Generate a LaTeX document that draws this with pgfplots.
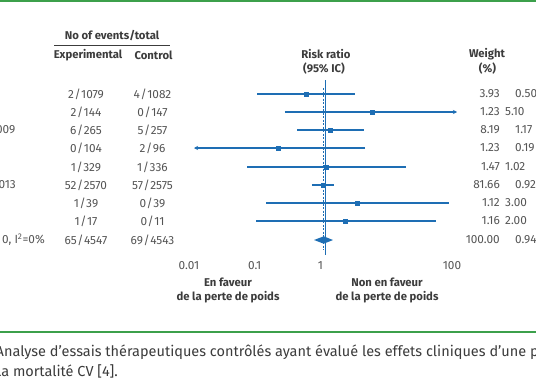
\documentclass[border=0pt]{standalone}
\usepackage{fontspec}
\setmainfont{Fira Sans}
\usepackage{pgfplots}
\pgfplotsset{compat=1.18}
\usetikzlibrary{arrows.meta}
\definecolor{fpblue}{RGB}{30,110,180}
\definecolor{fpgreen}{RGB}{60,160,75}
\definecolor{txt}{RGB}{85,85,85}
\definecolor{hdr}{RGB}{60,60,60}
\newcommand\rf{\fontsize{11.8bp}{13bp}\selectfont}
\newcommand\hf{\fontsize{11.3bp}{14bp}\selectfont\bfseries}
\newcommand\sls{\kern0.6bp/\kern0.6bp}
\begin{document}
\begin{tikzpicture}
\useasboundingbox (0,0) rectangle (536bp,-386bp);
\clip (0,0) rectangle (536bp,-386bp);
\begin{scope}[x=1bp,y=-1bp]
\fill[white] (0,0) rectangle (536,386);
\draw[fpgreen, line width=2.6bp] (0,0.8) -- (536,0.8);
\draw[fpgreen, line width=2bp] (0,332) -- (536,332);
% headers
\node[text=hdr, font=\hf] at (112,36) {No of events/total};
\draw[hdr, line width=0.8bp] (54,45) -- (170,45);
\node[text=hdr, font=\hf] at (88,55) {Experimental};
\node[text=hdr, font=\hf] at (153.5,55) {Control};
\node[text=hdr, font=\hf] at (326,54) {Risk ratio};
\node[text=hdr, font=\hf] at (324,69) {(95\% IC)};
\node[text=hdr, font=\hf] at (487,54) {Weight};
\node[text=hdr, font=\hf] at (487.5,69) {(\%)};
% left fragments (cut by the left edge)
\node[text=txt, font=\rf, anchor=east, inner sep=0pt] at (15.5,130) {2009};
\node[text=txt, font=\rf, anchor=east, inner sep=0pt] at (16,185) {2013};
\node[text=txt, font=\rf, anchor=east, inner sep=0pt] at (45,240) {0, I\textsuperscript{2}=0\%};
% events columns
\foreach \y/\e/\c in {94/2\sls1079/4\sls1082, 112/2\sls144/0\sls147, 130/6\sls265/5\sls257, 148/0\sls104/2\sls96, 167/1\sls329/1\sls336, 185/52\sls2570/57\sls2575, 203/1\sls39/0\sls39, 221/1\sls17/0\sls11, 240/65\sls4547/69\sls4543}{
  \node[text=txt, font=\rf] at (86,\y) {\e};
  \node[text=txt, font=\rf] at (152.5,\y) {\c};
}
% weight column
\foreach \y/\w/\r/\x in {94/3.93/0.50/515, 112/1.23/5.10/505, 130/8.19/1.17/515, 148/1.23/0.19/515, 167/1.47/1.02/505, 185/81.66/0.92/515, 203/1.12/3.00/505, 221/1.16/2.00/505, 240/100.00/0.94/515}{
  \node[text=txt, font=\rf, anchor=east, inner sep=0pt] at (500,\y) {\w};
  \node[text=txt, font=\rf, anchor=west, inner sep=0pt] at (\x,\y) {\r};
}
% favour labels
\node[text=hdr, font=\hf, align=center] at (228,290) {En faveur\\de la perte de poids};
\node[text=hdr, font=\hf, align=center] at (387,290) {Non en faveur\\de la perte de poids};
% caption (cut by the page edges, as in the reference)
\node[text=hdr, font=\fontsize{14.5bp}{16bp}\selectfont, anchor=west, inner sep=0pt] at (-4.5,352) {Analyse d'essais thérapeutiques contrôlés ayant évalué les effets cliniques d'une perte de poids};
\node[text=hdr, font=\fontsize{14.5bp}{16bp}\selectfont, anchor=west, inner sep=0pt] at (-6,371) {La mortalité CV [4].};
\end{scope}
\begin{axis}[at={(194bp,-70bp)}, anchor=north west, scale only axis,
  width=263bp, height=188bp, xmode=log, xmin=0.01, xmax=100,
  ymin=-258, ymax=-70, axis line style={draw=none}, ytick=\empty,
  xtick={0.01,0.1,1,100}, xticklabels={0.01,0.1,1,100},
  major tick style={draw=none}, minor tick style={draw=none},
  /pgf/number format/assume math mode=true,
  xticklabel style={font=\rf, text=txt, xshift=-5bp},
  clip=false]
\addplot[fpblue, line width=1.3bp] coordinates {(1,-80) (1,-255)};
\addplot[fpblue, line width=1bp, dash pattern=on 2bp off 1.5bp] coordinates {(0.93,-88) (0.93,-250)};
\addplot[fpblue, line width=1.3bp] coordinates {(0.091,-94) (2.8,-94)};
\addplot[fpblue, line width=1.3bp, -{Stealth[length=4bp,width=4bp]}] coordinates {(0.24,-112) (100,-112)};
\addplot[fpblue, line width=1.3bp] coordinates {(0.37,-130) (3.85,-130)};
\addplot[fpblue, line width=1.3bp, -{Stealth[length=4bp,width=4bp]}] coordinates {(4.0,-148) (0.01,-148)};
\addplot[fpblue, line width=1.3bp] coordinates {(0.064,-167) (17,-167)};
\addplot[fpblue, line width=1.3bp] coordinates {(0.62,-185) (1.35,-185)};
\addplot[fpblue, line width=1.3bp] coordinates {(0.125,-203) (76,-203)};
\addplot[fpblue, line width=1.3bp] coordinates {(0.088,-221) (48,-221)};
\addplot[only marks, mark=square*, mark size=2bp, fpblue] coordinates {(0.50,-94) (5.10,-112) (1.17,-130) (0.19,-148) (1.02,-167) (0.92,-185) (3.00,-203) (2.00,-221)};
\addplot[fill=fpblue, draw=none] coordinates {(0.67,-240) (0.94,-236.3) (1.3,-240) (0.94,-243.7)} -- cycle;
\end{axis}
\end{tikzpicture}
\end{document}
